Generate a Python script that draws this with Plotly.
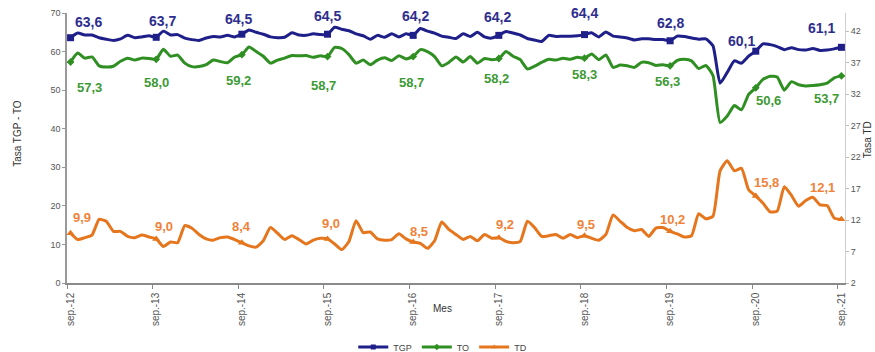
import plotly.graph_objects as go
import pandas as pd

# ---------------- data (monthly, sep-12 .. sep-21) ----------------
meses = pd.date_range("2012-09-01", "2021-09-01", freq="MS")

tgp = [63.6, 64.8, 64.3, 64.3, 63.6, 63.2, 62.9, 63.3, 64.2, 63.6, 63.8, 64.1,
       63.7, 65.3, 64.3, 64.4, 63.5, 63.1, 62.9, 63.5, 63.9, 63.8, 64.2, 63.8,
       64.5, 65.6, 65.0, 64.5, 63.8, 63.6, 63.7, 64.9, 64.3, 64.2, 64.6, 64.4,
       64.5, 66.3, 65.8, 65.4, 64.6, 64.1, 63.2, 64.2, 63.7, 64.6, 63.8, 64.6,
       64.2, 66.0, 65.3, 64.8, 64.0, 63.7, 63.4, 64.6, 63.9, 65.0, 63.8, 63.5,
       64.2, 65.2, 64.8, 64.3, 63.4, 63.0, 62.6, 64.2, 63.9, 64.0, 64.0, 64.1,
       64.4, 64.9, 63.8, 65.1, 64.0, 63.8, 63.5, 63.0, 63.3, 63.3, 63.1, 63.1,
       62.8, 64.0, 63.9, 63.5, 63.2, 63.3, 61.5, 51.8, 54.6, 57.6, 57.0, 58.8,
       60.1, 62.0, 61.8, 61.3, 60.5, 61.0, 60.5, 60.4, 60.8, 60.3, 60.4, 60.7,
       61.1]

to = [57.3, 59.6, 58.3, 58.6, 56.3, 56.0, 56.2, 57.5, 58.3, 57.8, 58.3, 58.2,
      58.0, 60.6, 58.8, 59.1, 57.0, 56.1, 56.1, 56.6, 57.8, 57.4, 57.1, 58.6,
      59.2, 61.2, 60.0, 58.8, 57.0, 57.8, 58.3, 59.0, 58.9, 59.0, 58.5, 58.9,
      58.7, 61.1, 60.8, 59.2, 57.0, 57.8, 56.6, 57.8, 58.4, 57.7, 58.9, 58.1,
      58.7, 60.5, 60.0, 58.7, 56.3, 57.2, 58.6, 57.3, 58.7, 57.0, 58.2, 57.9,
      58.2, 60.0, 58.8, 57.9, 55.5, 56.2, 57.2, 58.0, 57.8, 58.3, 58.0, 58.5,
      58.3, 59.4, 57.9, 59.1, 55.9, 56.5, 56.3, 55.9, 57.2, 57.1, 56.4, 56.6,
      56.3, 57.7, 58.0, 57.6, 55.6, 56.4, 53.8, 41.6, 43.3, 46.0, 44.9, 48.9,
      50.6, 52.8, 53.6, 53.4, 50.0, 52.2, 51.4, 51.1, 51.2, 51.4, 51.8, 53.2,
      53.7]

td = [9.9, 8.9, 9.2, 9.6, 12.1, 11.8, 10.2, 10.2, 9.4, 9.2, 9.6, 9.3,
      9.0, 7.8, 8.5, 8.4, 11.1, 10.7, 9.7, 9.0, 8.8, 9.2, 9.3, 8.9,
      8.4, 7.9, 7.7, 8.7, 10.8, 9.9, 8.9, 9.5, 8.9, 8.2, 8.8, 9.1,
      9.0, 8.2, 7.3, 8.6, 11.9, 10.0, 10.1, 9.0, 8.8, 8.9, 9.8, 9.0,
      8.5, 8.3, 7.5, 8.7, 11.7, 10.5, 9.7, 8.9, 9.4, 8.7, 9.7, 9.1,
      9.2, 8.6, 8.4, 8.6, 11.8, 10.8, 9.4, 9.5, 9.7, 9.1, 9.7, 9.2,
      9.5, 9.1, 8.8, 9.7, 12.8, 11.8, 10.8, 10.3, 10.5, 9.4, 10.7, 10.8,
      10.2, 9.8, 9.3, 9.5, 13.0, 12.2, 12.6, 19.8, 21.4, 19.8, 20.2, 16.8,
      15.8, 14.7, 13.3, 13.4, 17.3, 15.9, 14.2, 15.1, 15.6, 14.4, 14.3, 12.3,
      12.1]

tick_labels = ["sep.-12", "sep.-13", "sep.-14", "sep.-15", "sep.-16",
               "sep.-17", "sep.-18", "sep.-19", "sep.-20", "sep.-21"]

# ---------------- styling ----------------
C_TGP, C_TO, C_TD = "#1f1f8a", "#2f8f22", "#e5761e"
L_TGP, L_TO, L_TD = "#2e2e8e", "#3d9a35", "#f0823a"

# label offsets (px) for the September labels
tgp_dx = [18, 6, -3, 0, 2, -1, 0, 0, -14, -20]
tgp_dy = [16, 16, 15, 18, 19, 18, 22, 18, 10, 19]
to_dx = [19, 0, -3, -4, -2, -2, 0, -3, 13, -15]
to_dy = [-26, -23, -26, -29, -26, -20, -16, -16, -13, -23]
td_dx = [11, 8, 0, 3, 6, 6, 2, 2, 11, -19]
td_dy = [16, 12, 16, 15, 11, 13, 11, 12, 14, 32]

n = len(meses)
x = list(range(n))
sep_idx = [i for i, d in enumerate(meses) if d.month == 9]

fig = go.Figure()

def add_series(vals, color, name, symbol, msize, yaxis):
    fig.add_trace(go.Scatter(
        x=x, y=vals, mode="lines", yaxis=yaxis, showlegend=False,
        line=dict(color=color, width=3, shape="spline", smoothing=0.5),
        hoverinfo="skip"))
    fig.add_trace(go.Scatter(
        x=sep_idx, y=[vals[i] for i in sep_idx], mode="markers", yaxis=yaxis,
        showlegend=False, marker=dict(color=color, symbol=symbol, size=msize),
        hoverinfo="skip"))
    fig.add_trace(go.Scatter(
        x=[None], y=[None], mode="lines+markers", name=name, yaxis=yaxis,
        line=dict(color=color, width=3),
        marker=dict(color=color, symbol=symbol, size=5)))

add_series(tgp, C_TGP, "TGP", "square", 7, "y")
add_series(to, C_TO, "TO", "diamond", 6, "y")
add_series(td, C_TD, "TD", "triangle-up", 7, "y2")

def fmt(v):
    return f"{v:.1f}".replace(".", ",")

annotations = []
for vals, col, dxs, dys, yref, size in [
        (tgp, L_TGP, tgp_dx, tgp_dy, "y", 14),
        (to, L_TO, to_dx, to_dy, "y", 13),
        (td, L_TD, td_dx, td_dy, "y2", 13)]:
    for k, i in enumerate(sep_idx):
        annotations.append(dict(
            x=i, y=vals[i], xref="x", yref=yref, text=f"<b>{fmt(vals[i])}</b>",
            showarrow=False, xshift=dxs[k], yshift=dys[k],
            font=dict(color=col, size=size, family="Liberation Sans, Arial")))

axis_font = dict(family="Liberation Sans, Arial", size=10, color="#333")
annotations += [
    dict(text="Tasa TGP - TO", xref="paper", yref="paper", x=-0.063, y=0.556,
         xanchor="center", yanchor="middle",
         textangle=-90, showarrow=False, font=axis_font),
    dict(text="Tasa TD", xref="paper", yref="paper", x=1.03, y=0.53,
         xanchor="center", yanchor="middle",
         textangle=-90, showarrow=False, font=axis_font),
    dict(text="Mes", xref="paper", yref="paper", x=0.483, y=-0.093,
         xanchor="center", yanchor="middle",
         showarrow=False, font=axis_font),
]

fig.update_layout(
    width=875, height=352,
    margin=dict(l=67, r=30, t=13, b=69, autoexpand=False),
    paper_bgcolor="white", plot_bgcolor="white",
    font=dict(family="Liberation Sans, Arial", color="#444"),
    xaxis=dict(
        range=[-0.5, n - 0.5], tickmode="array", tickvals=sep_idx,
        ticktext=tick_labels, tickangle=-90, ticks="", automargin=False,
        ticklabelstandoff=4,
        tickfont=dict(size=10, color="#555"),
        showline=True, linecolor="#8a8a8a", linewidth=1.5,
        showgrid=False, zeroline=False,
        minor=dict(tickmode="array", tickvals=[i - 0.5 for i in sep_idx],
                   ticks="outside", ticklen=4, tickcolor="#888", showgrid=False),
    ),
    yaxis=dict(
        range=[0, 70], dtick=10, ticks="outside", ticklen=3, tickcolor="#999",
        tickfont=dict(size=9, color="#555"), automargin=False,
        showline=True, linecolor="#9a9a9a", linewidth=1.5,
        showgrid=False, zeroline=False,
    ),
    yaxis2=dict(
        overlaying="y", side="right", range=[2, 44.86],
        tickmode="array", tickvals=[2, 7, 12, 17, 22, 27, 32, 37, 42],
        ticks="outside", ticklen=3, tickcolor="#bbb", automargin=False,
        tickfont=dict(size=9, color="#555"),
        showline=True, linecolor="#cfcfcf", linewidth=1,
        showgrid=False, zeroline=False,
    ),
    legend=dict(orientation="h", x=0.483, xanchor="center", y=-0.237,
                yanchor="middle", font=dict(size=9, color="#444"),
                itemwidth=30, tracegroupgap=0),
    annotations=annotations,
)

fig.write_html("out.html")
